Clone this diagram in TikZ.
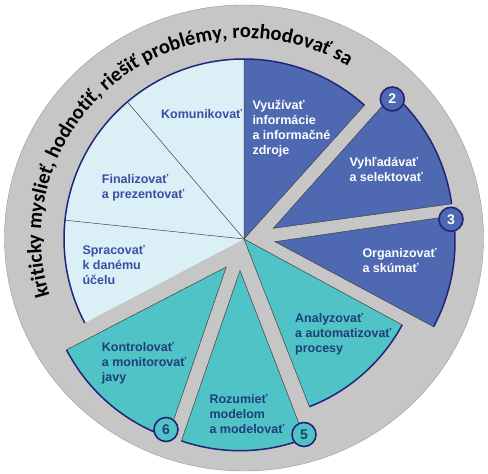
\documentclass[tikz,border=0pt]{standalone}
\usepackage{fontspec}
\setmainfont{Liberation Sans}
\newfontfamily\cfont{Carlito}
\usetikzlibrary{decorations.text}
\definecolor{ringgray}{HTML}{C6C6C6}
\definecolor{lightfill}{HTML}{DBEFF7}
\definecolor{darkfill}{HTML}{4E69B2}
\definecolor{tealfill}{HTML}{50C3C6}
\definecolor{navy}{HTML}{23237A}
\definecolor{lighttext}{HTML}{3A4EA6}
\definecolor{tealtext}{HTML}{1F3E7A}
\tikzset{
  segedge/.style={draw=black!75, line width=0.5pt},
  segrim/.style={draw=navy, line width=1.5pt},
  lbl/.style={anchor=west, align=left, inner sep=0pt, font=\bfseries\fontsize{12.5}{15}\selectfont},
  numc/.style={circle, draw=navy, line width=1.6pt, minimum size=24pt, inner sep=0pt, font=\bfseries\fontsize{14}{14}\selectfont},
}
\newcommand\seg[5]{%
  \fill[#5] (#1,#2) -- ++(#3:180pt) arc[start angle=#3,end angle=#4,radius=180pt] -- cycle;
  \draw[segedge] (#1,#2) ++(#3:180pt) -- (#1,#2) -- ++(#4:180pt);
  \draw[segrim] (#1,#2) ++(#3:180pt) arc[start angle=#3,end angle=#4,radius=180pt];
}
\begin{document}
\begin{tikzpicture}[x=1pt,y=1pt]
\useasboundingbox (0,0) rectangle (488,474);
\fill[ringgray, draw=black!40, line width=0.4pt] (244,236) ellipse [x radius=239.5pt, y radius=233pt];
% light sectors
\fill[lightfill] (244,235) -- ++(90:180pt) arc[start angle=90,end angle=207.8,radius=180pt] -- cycle;
\draw[segedge] (244,235) -- ++(130.4:180pt);
\draw[segedge] (244,235) -- ++(174:180pt);
\draw[segrim] (244,235) ++(90:180pt) arc[start angle=90,end angle=207.8,radius=180pt];
% dark & teal sectors
\seg{244}{235}{48}{90}{darkfill}
\seg{273.3}{245.7}{7.8}{48.3}{darkfill}
\seg{275}{232.3}{-28.2}{8.3}{darkfill}
\seg{244}{235}{-68.7}{-28.5}{tealfill}
\seg{240}{203.3}{-109}{-68.9}{tealfill}
\seg{226.3}{207}{-152.6}{-109}{tealfill}
% ring text
\path[decorate, decoration={text along path, text align=center,
  text={|\cfont\bfseries\fontsize{20.5}{21}\selectfont|kriticky myslieť, hodnotiť, riešiť problémy, rozhodovať sa}}]
  (244,236) ++(201:203pt and 200pt) arc[start angle=201, end angle=55, x radius=203pt, y radius=200pt];
% labels
\node[lbl, text=lighttext] (kom) at (161,359.5) {Komunikovať};
\node[lbl, text=lighttext] (fin) at (101.7,286) {Finalizovať\\a prezentovať};
\node[lbl, text=lighttext] (spr) at (82.3,208.7) {Spracovať\\k danému\\účelu};
\node[lbl, text=white] (vyu) at (252.3,345.7) {Využívať\\informácie\\a informačné\\zdroje};
\node[lbl, text=white] (vyh) at (349.3,304.8) {Vyhľadávať\\a selektovať};
\node[lbl, text=white] (org) at (362.3,213.8) {Organizovať\\a skúmať};
\node[lbl, text=tealtext] (ana) at (295,140) {Analyzovať\\a automatizovať\\procesy};
\node[lbl, text=tealtext] (roz) at (209.3,60.4) {Rozumieť\\modelom\\a modelovať};
\node[lbl, text=tealtext] (kon) at (101.7,111) {Kontrolovať\\a monitorovať\\javy};
% numbers
\node[numc, fill=darkfill, text=white] (n2) at (392.3,375) {2};
\node[numc, fill=darkfill, text=white] (n3) at (451,254.7) {3};
\node[numc, fill=tealfill, text=tealtext] (n5) at (304,39.5) {5};
\node[numc, fill=tealfill, text=tealtext] (n6) at (166,44.5) {6};
\end{tikzpicture}
\end{document}
